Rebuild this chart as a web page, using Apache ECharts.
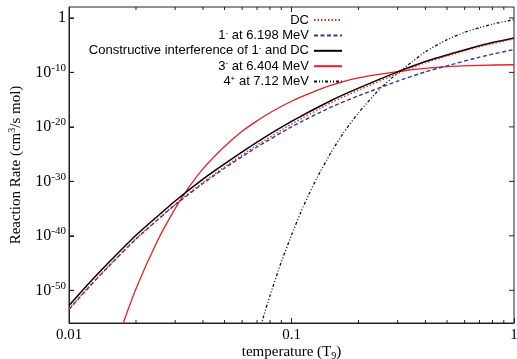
<!DOCTYPE html>
<html><head><meta charset="utf-8">
<script src="https://cdn.jsdelivr.net/npm/echarts@6/dist/echarts.min.js"></script>
<style>html,body{margin:0;padding:0;background:#fff}#c{width:517px;height:359px}</style>
</head><body><div id="c"></div>
<script>
// ---- data ----
// temperatures in T9; reaction rates stored as log10 of cm^3/(s mol)
const seriesNames = ['DC', '1- at 6.198 MeV', 'Constructive interference of 1- and DC', '3- at 6.404 MeV', '4+ at 7.12 MeV'];
const legendLabels = ['DC', '1{sup|-} at 6.198 MeV', 'Constructive interference of 1{sup|-} and DC', '3{sup|-} at 6.404 MeV', '4{sup|+} at 7.12 MeV'];

const tGrid = [0.01, 0.0125, 0.015, 0.02, 0.025, 0.03, 0.04, 0.05, 0.07, 0.1, 0.15, 0.2, 0.3, 0.4, 0.5, 0.7, 1.0];
const dcLog = [-53.4, -49.0, -45.6, -40.5, -37.0, -34.2, -30.2, -27.35, -23.35, -19.5, -15.6, -13.25, -10.2, -8.25, -7.0, -5.3, -3.85];
const oneMinusLog = [-53.5, -49.1, -45.7, -40.6, -37.1, -34.3, -30.4, -27.6, -23.7, -20.0, -16.4, -14.3, -11.6, -9.9, -8.8, -7.2, -5.8];
const constructiveLog = [-52.8, -48.4, -45.0, -39.9, -36.4, -33.6, -29.6, -26.8, -22.8, -19.0, -15.2, -12.9, -9.9, -8.0, -6.8, -5.1, -3.7];

const tThreeMinus = [0.017, 0.02, 0.025, 0.03, 0.035, 0.04, 0.05, 0.06, 0.07, 0.08, 0.1, 0.12, 0.15, 0.2, 0.3, 0.4, 0.5, 0.7, 1.0];
const threeMinusLog = [-57.5, -49.7, -40.9, -35.0, -30.8, -27.7, -23.6, -20.8, -18.9, -17.4, -15.3, -13.9, -12.4, -11.0, -9.85, -9.25, -8.95, -8.7, -8.6];

const tFourPlus = [0.07, 0.075, 0.08, 0.09, 0.1, 0.11, 0.12, 0.13, 0.15, 0.17, 0.2, 0.25, 0.3, 0.35, 0.4, 0.5, 0.6, 0.7, 0.8, 1.0];
const fourPlusLog = [-59.0, -54.7, -51.0, -44.8, -39.9, -35.7, -32.3, -29.4, -24.8, -21.3, -17.4, -13.0, -10.1, -8.0, -6.2, -4.0, -2.65, -1.8, -1.15, -0.3];

const xMajorTicks = [0.01, 0.1, 1];
const xMajorLabels = ['0.01', '0.1', '1'];
const xMinorTicks = [0.02, 0.03, 0.04, 0.05, 0.06, 0.07, 0.08, 0.09, 0.2, 0.3, 0.4, 0.5, 0.6, 0.7, 0.8, 0.9];
const yTickExponents = [-50, -40, -30, -20, -10, 0];

// ---- build (axes run in decades: x = log10 T, y = log10 rate) ----
const lg = Math.log10;
const toPairs = (ts, logs) => ts.map((t, i) => [lg(t), logs[i]]);
const X_MIN = -2, X_MAX = 0, Y_MIN = -56, Y_MAX = 2;
const GRID = { left: 69, right: 3, top: 7, bottom: 36 };
const CHART_W = 517, CHART_H = 359;
const SERIF = 'Liberation Serif';
const SANS = 'Liberation Sans';
const AXIS_COLOR = '#222';

const xAxis = {
  type: 'value', min: X_MIN, max: X_MAX, position: 'bottom',
  splitLine: { show: false },
  axisLine: { show: true, onZero: false, lineStyle: { color: AXIS_COLOR, width: 1 } },
  axisTick: { show: true, inside: true, length: 5, customValues: xMajorTicks.map(lg), lineStyle: { color: AXIS_COLOR, width: 1 } },
  axisLabel: {
    show: true, customValues: xMajorTicks.map(lg), margin: 5,
    fontFamily: SERIF, fontSize: 15, color: '#000',
    formatter: v => xMajorLabels[xMajorTicks.findIndex(t => Math.abs(lg(t) - v) < 1e-6)]
  },
  name: 'temperature (T{sub|9})', nameLocation: 'middle', nameGap: 21, nameMoveOverlap: false,
  nameTextStyle: { fontFamily: SERIF, fontSize: 15, color: '#000',
    rich: { sub: { fontFamily: SERIF, fontSize: 10, padding: [7, 0, 0, 0], color: '#000' } } }
};

const yAxis = {
  type: 'value', min: Y_MIN, max: Y_MAX, position: 'left',
  splitLine: { show: false },
  axisLine: { show: true, onZero: false, lineStyle: { color: AXIS_COLOR, width: 1 } },
  axisTick: { show: true, inside: true, length: 5, customValues: yTickExponents, lineStyle: { color: AXIS_COLOR, width: 1 } },
  axisLabel: {
    show: true, customValues: yTickExponents, margin: 3,
    fontFamily: SERIF, fontSize: 16, color: '#000',
    formatter: v => {
      const e = Math.round(v);
      return e === 0 ? '1' : '10{sup|' + e + '}';
    },
    rich: { sup: { fontFamily: SERIF, fontSize: 11, padding: [0, 0, 9, 0], color: '#000' } }
  },
  name: 'Reaction Rate (cm{sup|3}/s mol)', nameLocation: 'middle', nameGap: 44, nameRotate: 90,
  nameTextStyle: { fontFamily: SERIF, fontSize: 15, color: '#000',
    rich: { sup: { fontFamily: SERIF, fontSize: 10, padding: [0, 0, 8, 0], color: '#000' } } }
};

const styles = [
  { color: '#ee2222', type: [1.5, 2], width: 1.4 },
  { color: '#2a3aaa', type: [4, 2.5], width: 1.4 },
  { color: '#000000', type: 'solid', width: 1.5 },
  { color: '#ee1c25', type: 'solid', width: 1.3 },
  { color: '#111111', type: [3, 2, 1, 2, 1, 2], width: 1.3 }
];
const dataSets = [
  toPairs(tGrid, dcLog),
  toPairs(tGrid, oneMinusLog),
  toPairs(tGrid, constructiveLog),
  toPairs(tThreeMinus, threeMinusLog),
  toPairs(tFourPlus, fourPlusLog)
];
const drawOrder = [3, 4, 2, 1, 0];

const lineSeries = drawOrder.map(i => ({
  name: seriesNames[i], type: 'line', data: dataSets[i],
  showSymbol: false, symbol: 'none',
  smooth: 0.2, clip: true, silent: true, animation: false,
  lineStyle: styles[i], itemStyle: { color: styles[i].color }
}));

// inward tick marks on all four sides, drawn as short line segments on the axes' own scales
const yPerPx = (Y_MAX - Y_MIN) / (CHART_H - GRID.top - GRID.bottom);
const xPerPx = (X_MAX - X_MIN) / (CHART_W - GRID.left - GRID.right);
function xTickSeries(values, lenPx) {
  return values.map(t => {
    const x = lg(t);
    return [
      { type: 'line', data: [[x, Y_MIN], [x, Y_MIN + lenPx * yPerPx]] },
      { type: 'line', data: [[x, Y_MAX], [x, Y_MAX - lenPx * yPerPx]] }
    ];
  }).flat();
}
function yTickSeries(values, lenPx) {
  return values.map(y => [
    { type: 'line', data: [[X_MIN, y], [X_MIN + lenPx * xPerPx, y]] },
    { type: 'line', data: [[X_MAX, y], [X_MAX - lenPx * xPerPx, y]] }
  ]).flat();
}
const tickSeries = [].concat(
  xTickSeries(xMajorTicks.slice(1, -1), 5),
  xTickSeries(xMinorTicks, 3),
  yTickSeries(yTickExponents, 5)
).map(s => Object.assign(s, {
  showSymbol: false, symbol: 'none', clip: true, silent: true, animation: false, z: 3,
  lineStyle: { color: AXIS_COLOR, width: 1 }, itemStyle: { color: AXIS_COLOR }
}));

const legends = seriesNames.map((n, i) => ({
  data: [n], orient: 'vertical', align: 'right',
  right: 174, top: 13 + 15.4 * i, padding: 0,
  itemWidth: 28, itemHeight: 10, selectedMode: false,
  itemStyle: { opacity: 0, borderWidth: 0 },
  formatter: () => legendLabels[i],
  textStyle: { fontFamily: SANS, fontSize: 13, color: '#000', lineHeight: 14,
    rich: { sup: { fontFamily: SANS, fontSize: 8, padding: [0, 0, 6, 0], color: '#000' } } }
}));

const chart = echarts.init(document.getElementById('c'), null, { renderer: 'canvas' });
chart.setOption({
  animation: false,
  backgroundColor: '#fff',
  grid: Object.assign({ containLabel: false, outerBoundsMode: 'none',
    show: true, borderColor: AXIS_COLOR, borderWidth: 1, backgroundColor: 'transparent' }, GRID),
  xAxis: xAxis,
  yAxis: yAxis,
  legend: legends,
  series: lineSeries.concat(tickSeries)
});
</script>
</body></html>
